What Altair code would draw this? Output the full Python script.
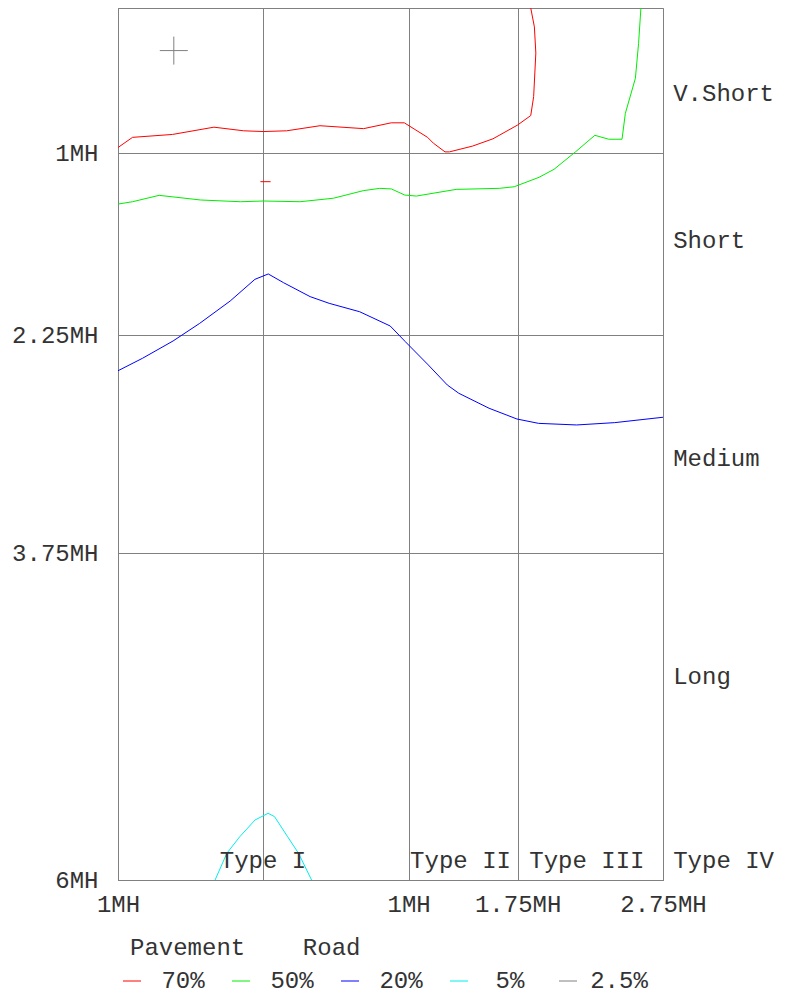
import altair as alt
import pandas as pd

FONT = "Liberation Mono"
TEXT = "#333333"
GRID = "#808080"

# ---- legend levels ----
levels = ["70%", "50%", "20%", "5%", "2.5%"]
level_colors = ["#ff0000", "#00ee00", "#0000ff", "#00eeee", "#808080"]

# ---- iso-lines (x, y in mounting heights) ----
red_x = [-1.0, -0.90, -0.625, -0.34, -0.135, 0.0, 0.16, 0.39, 0.69, 0.88, 0.97, 1.05,
         1.13, 1.17, 1.25, 1.28, 1.44, 1.58, 1.75, 1.84, 1.86, 1.875, 1.865, 1.84]
red_y = [0.96, 0.89, 0.87, 0.82, 0.845, 0.85, 0.845, 0.81, 0.83, 0.79, 0.79, 0.84,
         0.89, 0.93, 0.99, 0.99, 0.95, 0.90, 0.805, 0.74, 0.61, 0.31, 0.13, 0.0]
red_island_x = [-0.02, 0.05]
red_island_y = [1.195, 1.195]

green_x = [-1.0, -0.90, -0.717, -0.432, -0.158, 0.0, 0.253, 0.482, 0.687, 0.801, 0.881,
           0.973, 1.053, 1.327, 1.623, 1.726, 1.897, 2.0, 2.149, 2.281, 2.377, 2.468,
           2.491, 2.56, 2.582, 2.598]
green_y = [1.349, 1.333, 1.289, 1.321, 1.333, 1.328, 1.333, 1.309, 1.257, 1.241, 1.245,
           1.287, 1.294, 1.248, 1.241, 1.230, 1.165, 1.110, 0.989, 0.876, 0.903, 0.903,
           0.725, 0.484, 0.243, 0.0]

blue_x = [-1.0, -0.831, -0.621, -0.438, -0.228, -0.058, 0.034, 0.139, 0.322, 0.453, 0.663,
          0.873, 0.977, 1.135, 1.266, 1.345, 1.553, 1.745, 1.894, 2.156, 2.418, 2.75]
blue_y = [2.496, 2.410, 2.291, 2.170, 2.016, 1.867, 1.830, 1.890, 1.986, 2.032, 2.090,
          2.188, 2.296, 2.456, 2.594, 2.651, 2.754, 2.828, 2.858, 2.869, 2.853, 2.816]

cyan_x = [-0.332, -0.251, -0.162, -0.057, 0.033, 0.077, 0.167, 0.242, 0.332]
cyan_y = [6.0, 5.816, 5.702, 5.587, 5.541, 5.564, 5.702, 5.816, 6.0]

# ---- luminaire marker ----
marker_x = [-0.616]
marker_y = [0.293]

# ---- zone / type labels ----
zone_names = ["V.Short", "Short", "Medium", "Long"]
zone_y = [0.59, 1.6, 3.1, 4.6]
zone_x = [2.82, 2.82, 2.82, 2.82]
type_names = ["Type I", "Type II", "Type III", "Type IV"]
type_x = [-0.30, 1.01, 1.83, 2.82]
type_y = [5.87, 5.87, 5.87, 5.87]

# ---- axis ticks ----
x_ticks = [-1, 0, 1, 1.75, 2.75]
y_ticks = [1, 2.25, 3.75, 6]

rows = []
def add(level, cid, xs, ys):
    for i, (x, y) in enumerate(zip(xs, ys)):
        rows.append({"level": level, "contour": cid, "order": i, "x": x, "y": y})

add("70%", "r1", red_x, red_y)
add("70%", "r2", red_island_x, red_island_y)
add("50%", "g1", green_x, green_y)
add("20%", "b1", blue_x, blue_y)
add("5%", "c1", cyan_x, cyan_y)
lines_df = pd.DataFrame(rows)

xscale = alt.Scale(domain=[-1, 2.75], nice=False, zero=False)
yscale = alt.Scale(domain=[0, 6], nice=False, zero=False, reverse=True)

xaxis = alt.Axis(values=x_ticks, title=None, ticks=False, grid=True,
                 labelExpr="datum.value == 0 ? '' : abs(datum.value) + 'MH'",
                 labelPadding=12, labelFlush=False, labelOverlap=False)
yaxis = alt.Axis(values=y_ticks, title=None, ticks=False, grid=True,
                 labelExpr="datum.value + 'MH'", labelPadding=20,
                 labelFlush=False, labelOverlap=False)

X = alt.X("x:Q", scale=xscale, axis=xaxis)
Y = alt.Y("y:Q", scale=yscale, axis=yaxis)

legend = alt.Legend(
    title="Pavement\u00a0\u00a0\u00a0\u00a0Road", orient="none", legendX=12, legendY=928,
    direction="horizontal", columns=5, symbolType="stroke", symbolSize=324,
    symbolStrokeWidth=1, symbolOffset=-10, labelFont=FONT, labelFontSize=24, labelColor=TEXT,
    labelAlign="center", labelOffset=39, columnPadding=18, gridAlign="all",
    titleFont=FONT, titleFontSize=24, titleFontWeight="normal", titleColor=TEXT,
    titlePadding=9, padding=0, labelLimit=300, titleLimit=500,
)

lines = alt.Chart(lines_df).mark_line(strokeWidth=1, clip=True).encode(
    x=X, y=Y,
    color=alt.Color("level:N", scale=alt.Scale(domain=levels, range=level_colors), legend=legend),
    detail="contour:N",
    order="order:Q",
)

marker = alt.Chart(pd.DataFrame({"x": marker_x, "y": marker_y})).mark_point(
    shape="M-1,0H1M0,-1V1", size=784, filled=False, stroke=GRID, strokeWidth=1, opacity=1
).encode(x=X, y=Y)

zones = alt.Chart(pd.DataFrame({"x": zone_x, "y": zone_y, "t": zone_names})).mark_text(
    font=FONT, fontSize=24, color=TEXT, align="left", baseline="middle"
).encode(x=X, y=Y, text="t:N")

types = alt.Chart(pd.DataFrame({"x": type_x, "y": type_y, "t": type_names})).mark_text(
    font=FONT, fontSize=24, color=TEXT, align="left", baseline="middle"
).encode(x=X, y=Y, text="t:N")

chart = alt.layer(lines, marker, zones, types).properties(
    width=545, height=872,
    padding={"left": 110, "top": 0, "right": 114, "bottom": 116},
    autosize=alt.AutoSizeParams(type="none"),
).configure_view(
    stroke=GRID, strokeWidth=1
).configure_axis(
    gridColor=GRID, gridOpacity=1, gridWidth=1, domainColor=GRID, domainWidth=1,
    labelFont=FONT, labelFontSize=24, labelColor=TEXT,
)

chart.save("out.html", embed_options={"renderer": "svg", "actions": False})
